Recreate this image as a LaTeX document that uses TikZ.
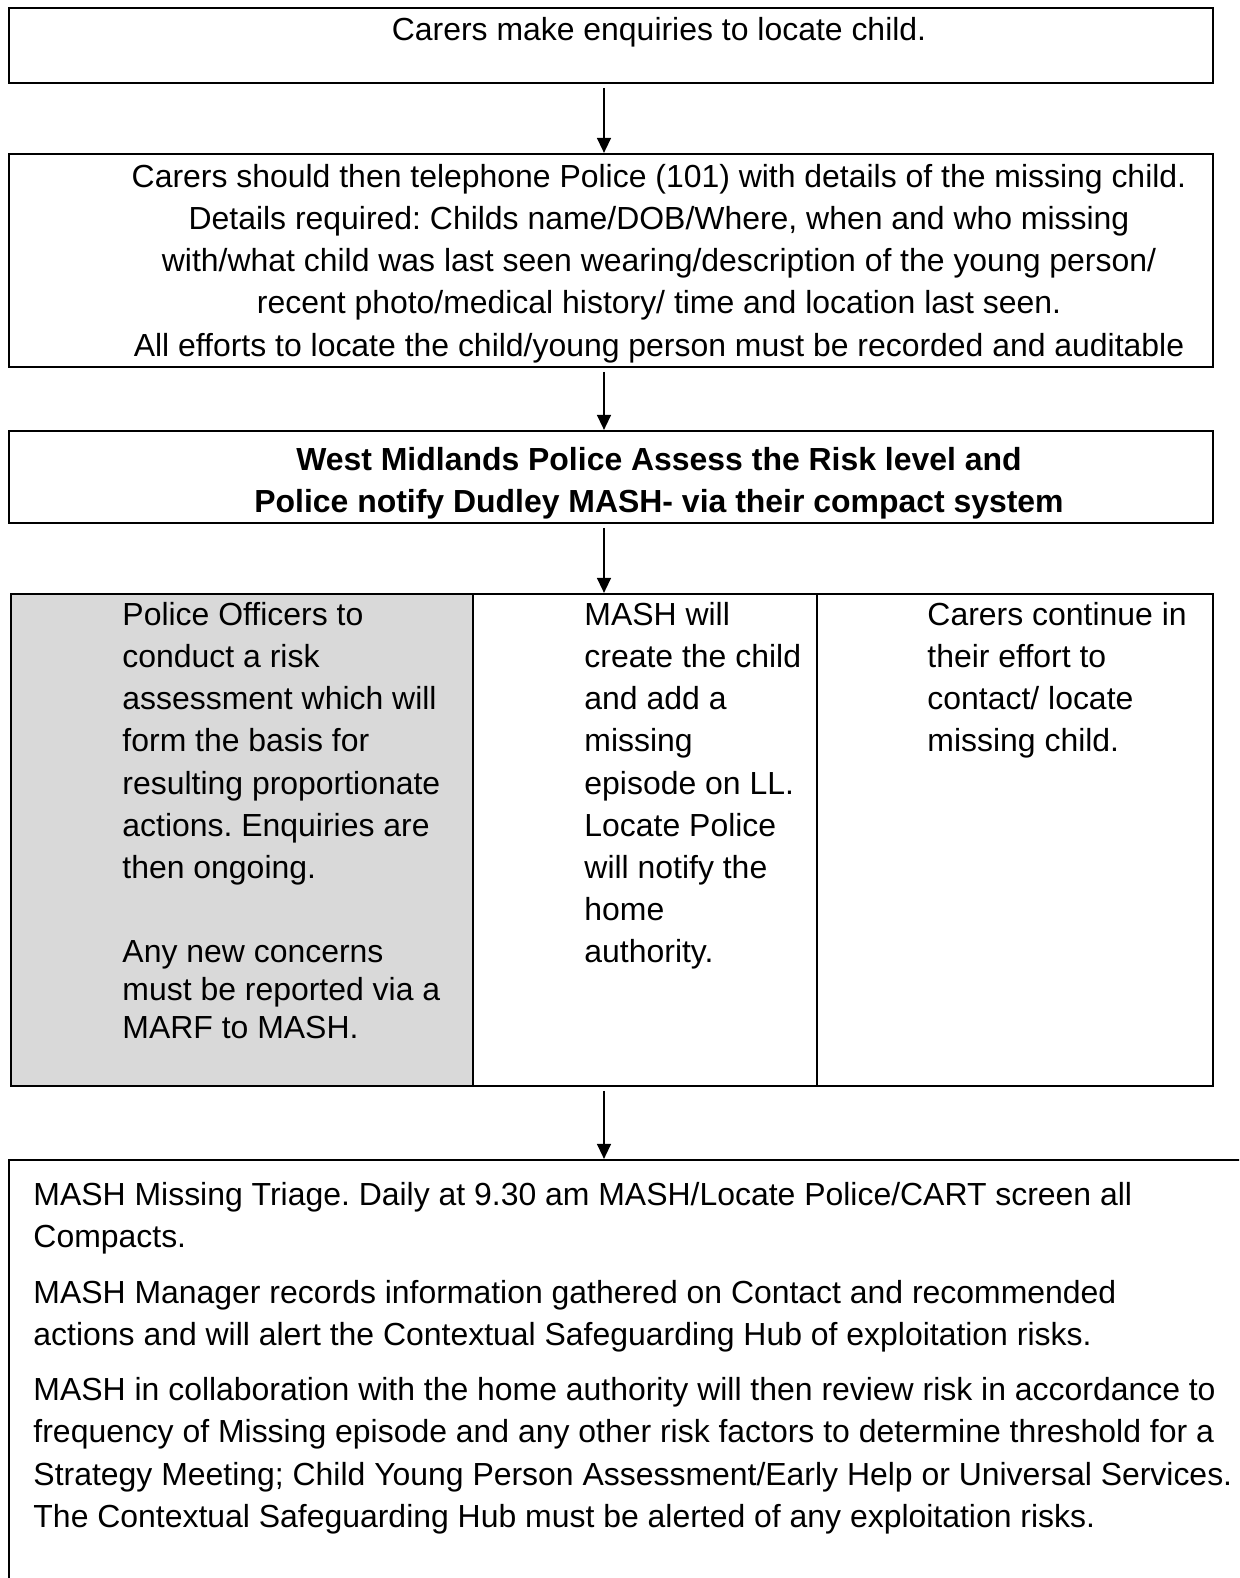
\documentclass[tikz,border=0pt]{standalone}
\usepackage{fontspec}
\setmainfont{Liberation Sans}
\usepackage{xcolor}
\usetikzlibrary{fit,arrows.meta}
\frenchspacing

\definecolor{cellgrey}{HTML}{D9D9D9}

\tikzset{
  box/.style={draw, line width=0.95pt, inner sep=0pt},
  flow/.style={line width=0.55pt, -{Triangle[length=6.3pt,width=5.9pt]}, shorten <=1.6pt},
  txt/.style={inner sep=0pt, font=\fontsize{13.35}{17.6}\selectfont},
  tight/.style={inner sep=0pt, font=\fontsize{13.35}{15.9}\selectfont},
}

\begin{document}
\begin{tikzpicture}[x=0.418pt,y=-0.418pt]
\useasboundingbox (0,0) rectangle (1239,1578);
\clip (0,0) rectangle (1239,1578);
\fill[white] (0,0) rectangle (1239,1578);

% boxes
\node[box, fit={(9,8) (1213,83)}] (enq) {};
\node[box, fit={(9,154) (1213,367)}] (call) {};
\node[box, fit={(9,431) (1213,523)}] (assess) {};
\node[box, fill=cellgrey, fit={(11,594) (473,1086)}] (risk) {};
\node[box, fit={(473,594) (817,1086)}] (mash) {};
\node[box, fit={(817,594) (1213,1086)}] (carers) {};
\node[box, fit={(9,1160) (1270,1620)}] (triage) {};

% texts
\node[txt] (enqtext) at (659,32) {Carers make enquiries to locate child.};
\node[txt, align=center, anchor=north] (calltext) at (659,164) {Carers should then telephone Police (101) with details of the missing child.\\
  Details required: Childs name/DOB/Where, when and who missing\\
  with/what child was last seen wearing/description of the young person/\\
  recent photo/medical history/ time and location last seen.\\
  All efforts to locate the child/young person must be recorded and auditable};
\node[txt, align=center, anchor=north, font=\fontsize{13.35}{17.6}\selectfont\bfseries] (assesstext) at (659,447)
  {West Midlands Police Assess the Risk level and\\
  Police notify Dudley MASH- via their compact system};

\node[txt, align=left, anchor=north west] (risktext) at (122,602) {Police Officers to\\
  conduct a risk\\
  assessment which will\\
  form the basis for\\
  resulting proportionate\\
  actions. Enquiries are\\
  then ongoing.};
\node[tight, align=left, anchor=north west] (marftext) at (122,940) {Any new concerns\\
  must be reported via a\\
  MARF to MASH.};
\node[txt, align=left, anchor=north west] (mashtext) at (584,602) {MASH will\\
  create the child\\
  and add a\\
  missing\\
  episode on LL.\\
  Locate Police\\
  will notify the\\
  home\\
  authority.};
\node[txt, align=left, anchor=north west] (carerstext) at (927,602) {Carers continue in\\
  their effort to\\
  contact/ locate\\
  missing child.};

\node[txt, align=left, anchor=north west] (triagetext) at (33,1182) {MASH Missing Triage. Daily at 9.30 am MASH/Locate Police/CART screen all\\
  Compacts.\\[5.6pt]
  MASH Manager records information gathered on Contact and recommended\\
  actions and will alert the Contextual Safeguarding Hub of exploitation risks.\\[5.6pt]
  MASH in collaboration with the home authority will then review risk in accordance to\\
  frequency of Missing episode and any other risk factors to determine threshold for a\\
  Strategy Meeting; Child Young Person Assessment/Early Help or Universal Services.\\
  The Contextual Safeguarding Hub must be alerted of any exploitation risks.};

% connectors
\coordinate (ax) at (604,0);
\draw[flow] (enq.south -| ax) -- (call.north -| ax);
\draw[flow] (call.south -| ax) -- (assess.north -| ax);
\draw[flow] (assess.south -| ax) -- (mash.north -| ax);
\draw[flow] (mash.south -| ax) -- (triage.north -| ax);
\end{tikzpicture}
\end{document}
